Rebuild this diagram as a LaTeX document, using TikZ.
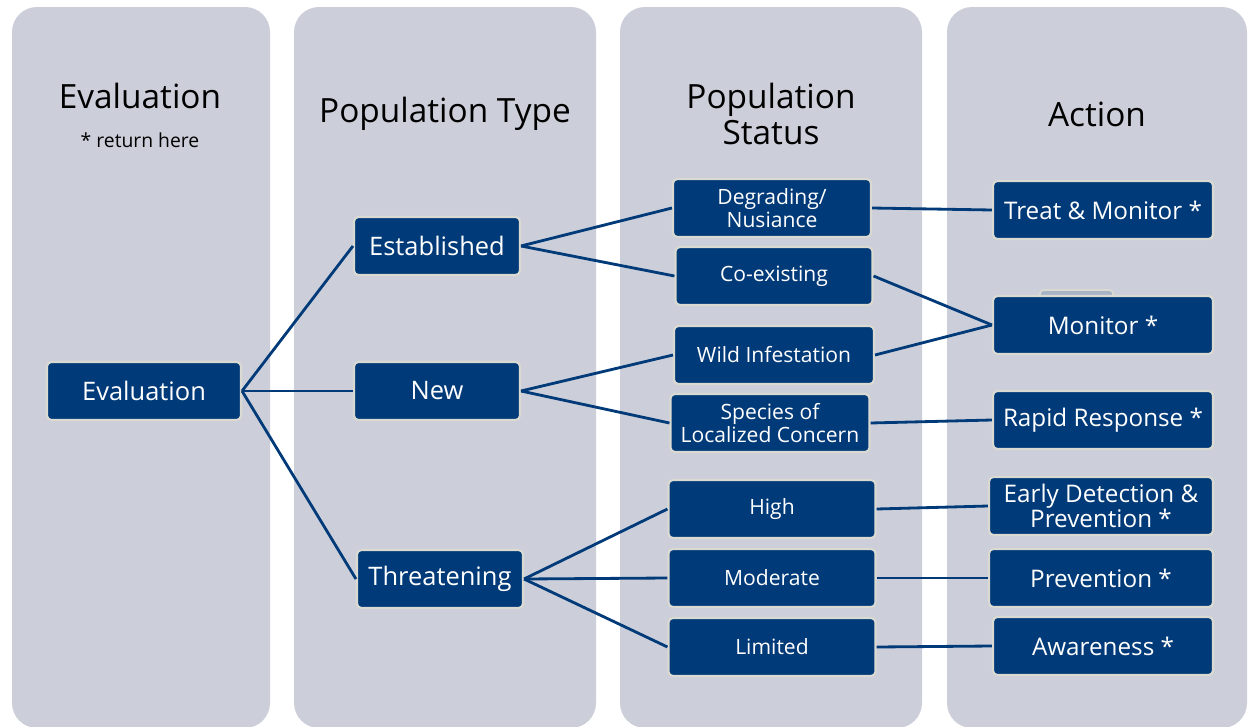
\documentclass[tikz,border=0pt]{standalone}
\usepackage{fontspec}
\setmainfont{Open Sans}
\usepackage{xcolor}
\definecolor{navyblue}{RGB}{0,58,120}
\definecolor{columngrey}{RGB}{204,207,217}
\definecolor{edgegrey}{RGB}{218,218,210}
\definecolor{ghostblue}{RGB}{168,180,198}
\usepackage{tikz}
\usetikzlibrary{positioning}
\tikzset{
  column/.style={fill=columngrey, rounded corners=0.5cm},
  header/.style={text=black, font=\fontsize{19}{21}\selectfont, align=center},
  box/.style={draw=edgegrey, line width=1.2pt, fill=navyblue, text=white,
    rounded corners=2.5pt, minimum height=1.16cm, align=center, inner sep=1pt,
    font=\fontsize{14.5}{16}\selectfont},
  statusbox/.style={box, minimum width=4cm, font=\fontsize{12}{13.5}\selectfont},
  actionbox/.style={box, minimum width=4.4cm, font=\fontsize{13.8}{15}\selectfont},
  link/.style={navyblue, line width=1.6pt}
}

\begin{document}
\begin{tikzpicture}[x=0.02cm, y=-0.02cm]
\useasboundingbox (0,0) rectangle (1248,727);
\fill [column] (12,7) rectangle (270,728);
\fill [column] (294,7) rectangle (596,728);
\fill [column] (620,7) rectangle (922,728);
\fill [column] (947,7) rectangle (1247,728);

\node[header] (h1) at (140,96) {Evaluation};
\node[font=\fontsize{11}{13}\selectfont] (note) at (140,140) {* return here};
\node[header] (h2) at (445,114) {Population Type};
\node[header] (h3) at (771,114) {Population\\Status};
\node[header] (h4) at (1097,114) {Action};

% evaluation and type
\node[box, minimum width=3.88cm] (eval) at (144,391) {Evaluation};
\node[box, minimum width=3.32cm] (est) at (437,246) {Established};
\node[box, minimum width=3.32cm] (new) at (437,391) {New};
\node[box, minimum width=3.32cm] (thr) at (440,579) {Threatening};

% status
\node[statusbox, minimum width=3.96cm] (deg) at (772,208) {Degrading/\\Nusiance};
\node[statusbox, minimum width=3.94cm] (coex) at (774,276) {Co-existing};
\node[statusbox] (wild) at (774,355) {Wild Infestation};
\node[statusbox, minimum width=3.98cm] (spec) at (770,423) {Species of\\Localized Concern};
\node[statusbox, minimum width=4.14cm] (high) at (772,509) {High};
\node[statusbox, minimum width=4.14cm] (mod) at (772,578) {Moderate};
\node[statusbox, minimum width=4.14cm] (lim) at (772,647) {Limited};

% action
\draw [draw=edgegrey, fill=ghostblue, line width=1pt, rounded corners=2pt] (1040,290) rectangle (1113,302);
\node[actionbox] (treat) at (1103,210) {Treat \& Monitor *};
\node[actionbox] (mon) at (1103,325) {Monitor *};
\node[actionbox] (rapid) at (1103,420) {Rapid Response *};
\node[actionbox, minimum width=4.48cm, font=\fontsize{13.8}{14.5}\selectfont] (early) at (1101,506) {Early Detection \&\\Prevention *};
\node[actionbox, minimum width=4.48cm] (prev) at (1101,578) {Prevention *};
\node[actionbox] (aware) at (1103,646) {Awareness *};

\draw [link] (eval.east) -- (est.west);
\draw [link] (eval.east) -- (new.west);
\draw [link] (eval.east) -- (thr.west);
\draw [link] (est.east) -- (deg.west);
\draw [link] (est.east) -- (coex.west);
\draw [link] (new.east) -- (wild.west);
\draw [link] (new.east) -- (spec.west);
\draw [link] (thr.east) -- (high.west);
\draw [link] (thr.east) -- (mod.west);
\draw [link] (thr.east) -- (lim.west);
\draw [link] (deg.east) -- (treat.west);
\draw [link] (coex.east) -- (mon.west);
\draw [link] (wild.east) -- (mon.west);
\draw [link] (spec.east) -- (rapid.west);
\draw [link] (high.east) -- (early.west);
\draw [link] (mod.east) -- (prev.west);
\draw [link] (lim.east) -- (aware.west);
\end{tikzpicture}
\end{document}
